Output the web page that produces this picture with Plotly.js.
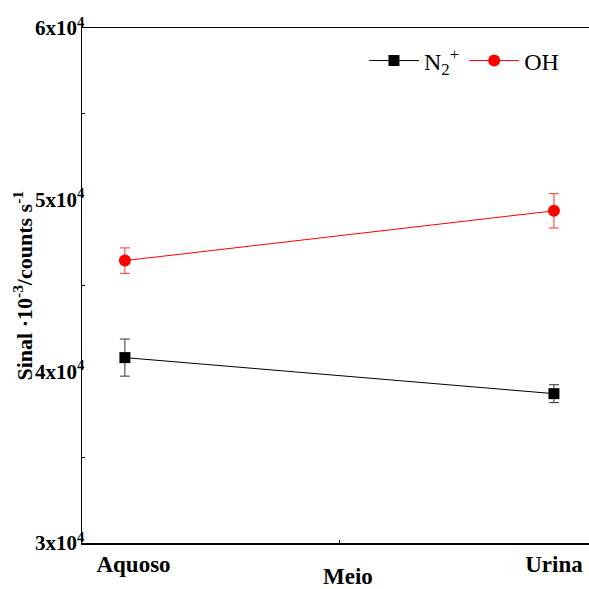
<!DOCTYPE html>
<html>
<head>
<meta charset="utf-8">
<script src="https://cdn.plot.ly/plotly-3.0.1.min.js"></script>
<style>
  html, body { margin: 0; padding: 0; overflow: hidden; background: #fff; }
  #chart { width: 620px; height: 589px; }
</style>
</head>
<body>
<div id="chart"></div>
<script>
// Media and measured signal (counts per second) with standard deviations
const media = ['\u00a0\u00a0\u00a0Aquoso', 'Urina'];
const mediaPos = [0, 1];
const n2Signal = [40800, 38700];
const n2Error = [1080, 520];
const ohSignal = [46450, 49350];
const ohError = [740, 1000];

const yTickVals = [30000, 40000, 50000, 60000];
const yTickText = ['3x10<sup>4</sup>', '4x10<sup>4</sup>', '5x10<sup>4</sup>', '6x10<sup>4</sup>'];

const xTitle = '<b>Meio</b>';
const yTitle = '<b>Sinal ·10<sup>-3</sup>/counts s<sup>-1</sup></b>';

const serif = 'Liberation Serif, Times New Roman, serif';

const traces = [
  {
    x: mediaPos, y: n2Signal, name: 'N<sub>2</sub><sup>+</sup>',
    type: 'scatter', mode: 'lines+markers',
    line: { color: '#000000', width: 1 },
    marker: { symbol: 'square', size: 11, color: '#000000' },
    error_y: { type: 'data', array: n2Error, visible: true, color: '#333333', thickness: 1, width: 5 }
  },
  {
    x: mediaPos, y: ohSignal, name: 'OH',
    type: 'scatter', mode: 'lines+markers',
    line: { color: '#ff0000', width: 1 },
    marker: { symbol: 'circle', size: 12, color: '#ff0000' },
    error_y: { type: 'data', array: ohError, visible: true, color: '#ff3333', thickness: 1, width: 5 }
  }
];

const layout = {
  width: 620, height: 589,
  margin: { l: 82, r: 6, t: 28, b: 46 },
  paper_bgcolor: '#ffffff', plot_bgcolor: '#ffffff',
  font: { family: serif, color: '#000000' },
  showlegend: true,
  legend: {
    orientation: 'h', x: 0.53, y: 0.936, xanchor: 'left', yanchor: 'middle',
    font: { family: serif, size: 24, color: '#000000' },
    bgcolor: 'rgba(0,0,0,0)', itemwidth: 50, tracegroupgap: 0
  },
  xaxis: {
    range: [-0.1, 1.14], tickmode: 'array', tickvals: mediaPos, ticktext: media,
    ticks: '', showgrid: false, zeroline: false,
    showline: true, linecolor: '#000000', linewidth: 1.5, mirror: true,
    tickfont: { family: serif, size: 23, color: '#000000', weight: 'bold' },
    minor: { tickmode: 'array', tickvals: [0.5], ticks: 'inside', ticklen: 3, tickcolor: '#000000', showgrid: false }
  },
  yaxis: {
    range: [30000, 60000], tickmode: 'array', tickvals: yTickVals, ticktext: yTickText,
    ticks: '', showgrid: false, zeroline: false,
    showline: true, linecolor: '#000000', linewidth: 1.5, mirror: true,
    tickfont: { family: serif, size: 21, color: '#000000', weight: 'bold' },
    ticklabelstandoff: -8,
    minor: { tickmode: 'array', tickvals: [35000, 45000, 55000], ticks: 'inside', ticklen: 3, tickcolor: '#000000', showgrid: false }
  },
  // Axis titles placed as paper annotations for finer control of their offsets
  annotations: [
    {
      text: xTitle, xref: 'paper', yref: 'paper', x: 0.5, y: 0,
      xanchor: 'center', yanchor: 'middle', yshift: -33, showarrow: false,
      font: { family: serif, size: 23, color: '#000000' }
    },
    {
      text: yTitle, xref: 'paper', yref: 'paper', x: 0, y: 0.5,
      xanchor: 'center', yanchor: 'middle', xshift: -60, textangle: -90, showarrow: false,
      font: { family: serif, size: 22, color: '#000000' }
    }
  ]
};

Plotly.newPlot('chart', traces, layout, { staticPlot: true, displayModeBar: false });
</script>
</body>
</html>
